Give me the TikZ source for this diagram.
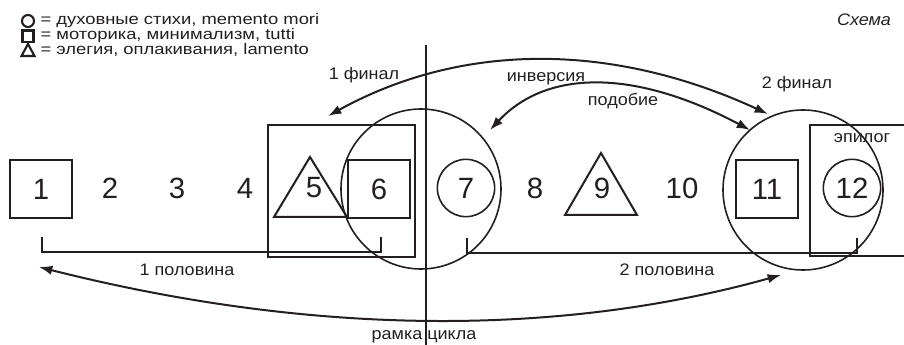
\documentclass[tikz,border=0pt]{standalone}
\usepackage{fontspec}
\setmainfont{Liberation Sans}
\newfontfamily\legendfont[FakeStretch=1.2]{Liberation Sans}
\newfontfamily\labelfont[FakeStretch=1.08]{Liberation Sans}
\usetikzlibrary{arrows.meta}
\definecolor{ink}{RGB}{35,31,32}

\tikzset{every picture/.style={line width=0.75pt}}
\tikzset{
  numtext/.style={inner sep=0pt, text=ink, font=\fontsize{22}{26}\selectfont},
  numbox/.style={numtext, draw=ink, line width=1.5, minimum width=46pt, minimum height=43pt},
  numcirc/.style={numtext, draw=ink, circle, line width=1.2, minimum size=43pt},
  lbl/.style={inner sep=0.75pt, text=ink, font=\labelfont\fontsize{12.5}{14}\selectfont},
  legend/.style={anchor=west, inner sep=0.75pt, text=ink, font=\legendfont\fontsize{11.5}{13}\selectfont},
  twoway/.style={draw=ink, line width=1.5, {Latex[length=10pt,width=7pt]}-{Latex[length=10pt,width=7pt]}},
}

\begin{document}
\begin{tikzpicture}[x=0.75pt,y=0.75pt,yscale=-1,xscale=1]
\path[use as bounding box] (0,0) rectangle (904,345);
\clip (0,0) rectangle (904,345);

%Legend shapes
\draw [ink, line width=1.6] (28,21) circle [radius=6];
\draw [ink, line width=1.6] (22.5,30.5) rectangle (33.5,42);
\draw [ink, line width=1.6] (28,44) -- (21.5,56) -- (34.5,56) -- cycle;
% Text Node
\node [legend] (legcirc) at (39,21) {= духовные стихи, memento mori};
\node [legend] (legsq) at (39,36) {= моторика, минимализм, tutti};
\node [legend] (legtri) at (39,50) {= элегия, оплакивания, lamento};
% Text Node
\node [lbl, font=\labelfont\itshape\fontsize{12.5}{14}\selectfont] (title) at (864,20) {Схема};

%Straight Lines
\draw [ink, line width=1.2] (426,45) -- (426,345);

%Shapes
\draw [ink, line width=1.5] (268,125) rectangle (415,257);
\draw [ink, line width=1.5] (810,125) rectangle (910,256);
\draw [ink, line width=1.5] (310,157) -- (274,217) -- (347,217) -- cycle;
\draw [ink, line width=1.5] (601,153) -- (565,215) -- (637,215) -- cycle;
\draw [ink, line width=1.2] (421,189) circle [radius=80];
\draw [ink, line width=1.2] (803,190) circle [radius=80];

% Number Nodes
\node [numbox] (n1) at (41,189) {1};
\node [numtext] (n2) at (110,188) {2};
\node [numtext] (n3) at (177,188) {3};
\node [numtext] (n4) at (245,188) {4};
\node [numtext] (n5) at (314,188) {5};
\node [numbox] (n6) at (379,189) {6};
\node [numcirc] (n7) at (466,188) {7};
\node [numtext] (n8) at (535,188) {8};
\node [numtext] (n9) at (602,188) {9};
\node [numtext] (n10) at (682,188) {10};
\node [numbox] (n11) at (767,189) {11};
\node [numcirc] (n12) at (852,188) {12};

%Brackets
\draw [ink, line width=1.5] (42,237) -- (42,252) -- (381,252) -- (381,237);
\draw [ink, line width=1.5] (467,238) -- (467,253) -- (857,253) -- (857,238);

%Curve Lines
\coordinate (fin1) at (328,116);
\coordinate (fin2) at (768,114);
\draw [twoway] (fin1) .. controls (462,42) and (612,42) .. (fin2);
\coordinate (sim7) at (490,130);
\coordinate (sim11) at (750,130);
\draw [twoway] (sim7) .. controls (548,68) and (637,70) .. (sim11);
\coordinate (frameL) at (39,267);
\coordinate (frameR) at (781,275);
\draw [twoway] (frameL) .. controls (308,335) and (555,338) .. (frameR);

% Text Node
\node [lbl] (fin1lbl) at (364,75) {1 финал};
\node [lbl] (invlbl) at (546,79) {инверсия};
\node [lbl] (simlbl) at (623,101) {подобие};
\node [lbl] (fin2lbl) at (797,84) {2 финал};
\node [lbl] (epilbl) at (862,138) {эпилог};
\node [lbl] (half1lbl) at (187,270) {1 половина};
\node [lbl] (half2lbl) at (667,270) {2 половина};
\node [lbl] (framelbl) at (424,337) {рамка цикла};

\end{tikzpicture}
\end{document}
